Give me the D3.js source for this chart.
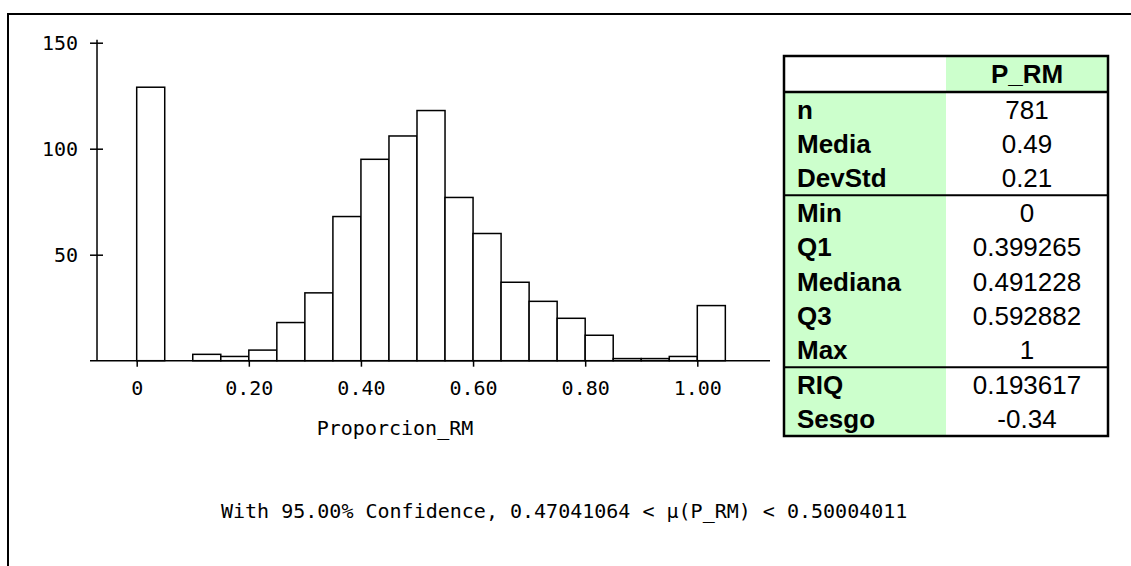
<!DOCTYPE html>
<html><head><meta charset="utf-8">
<script src="https://cdn.jsdelivr.net/npm/d3@7"></script>
<style>body{margin:0;background:#fff} svg{display:block}</style>
</head><body><svg id="c" width="1131" height="566"></svg>
<script>
// ---- data ----
const binStarts = [0,0.05,0.10,0.15,0.20,0.25,0.30,0.35,0.40,0.45,0.50,0.55,0.60,0.65,0.70,0.75,0.80,0.85,0.90,0.95,1.00];
const counts    = [129,0,3,2,5,18,32,68,95,106,118,77,60,37,28,20,12,1,1,2,26];
const binWidth = 0.05;
const yTickValues = [50,100,150];
const yTickLabels = ["50","100","150"];
const xTickValues = [0,0.2,0.4,0.6,0.8,1.0];
const xTickLabels = ["0","0.20","0.40","0.60","0.80","1.00"];
const xTitle = "Proporcion_RM";
const ciText = "With 95.00% Confidence, 0.47041064 < \u03BC(P_RM) < 0.50004011";
const tableHeader = "P_RM";
const statLabels = ["n","Media","DevStd","Min","Q1","Mediana","Q3","Max","RIQ","Sesgo"];
const statValues = ["781","0.49","0.21","0","0.399265","0.491228","0.592882","1","0.193617","-0.34"];
const ruleAfter = [3,8];

// ---- layout ----
const svg = d3.select("#c");
const mono = "'DejaVu Sans Mono', monospace";
const x = d3.scaleLinear().domain([0,1]).range([136.7,697.3]);
const y = d3.scaleLinear().domain([0,150]).range([360.7,42.7]);
const xAxisExt = [-0.0833, 1.1297];
const yAxisAt = -0.0708;

// frame
svg.append("path").attr("d","M8,566 L8,14 L1131,14").attr("fill","none").attr("stroke","#000").attr("stroke-width",2);

// bars
svg.append("g").selectAll("rect").data(counts.map((c,i)=>({x0:binStarts[i],c})))
  .join("rect")
  .attr("x",d=>x(d.x0)).attr("width",d=>x(d.x0+binWidth)-x(d.x0))
  .attr("y",d=>y(d.c)).attr("height",d=>y(0)-y(d.c))
  .attr("fill","#fff").attr("stroke","#000").attr("stroke-width",1.5)
  .attr("display",d=>d.c>0?null:"none");

// y axis
const yAx = svg.append("g").attr("transform",`translate(${x(yAxisAt)},0)`)
  .call(d3.axisLeft(y).tickValues(yTickValues).tickFormat((d,i)=>yTickLabels[i]).tickSize(7).tickPadding(12));
yAx.select(".domain").remove();
yAx.append("line").attr("x1",0).attr("x2",0).attr("y1",y(150)-3).attr("y2",y(0)).attr("stroke","#000").attr("stroke-width",1.5);
yAx.selectAll(".tick line").attr("x1",-7).attr("x2",6).attr("stroke","#000").attr("stroke-width",1.5);
yAx.selectAll(".tick text").attr("font-family",mono).attr("font-size",20).attr("fill","#000");

// x axis
const xAx = svg.append("g").attr("transform",`translate(0,${y(0)})`)
  .call(d3.axisBottom(x).tickValues(xTickValues).tickFormat((d,i)=>xTickLabels[i]).tickSize(6).tickPadding(14));
xAx.select(".domain").remove();
xAx.append("line").attr("x1",x(xAxisExt[0])).attr("x2",x(xAxisExt[1])).attr("y1",0).attr("y2",0).attr("stroke","#000").attr("stroke-width",1.5);
xAx.selectAll(".tick line").attr("stroke","#000").attr("stroke-width",1.5);
xAx.selectAll(".tick text").attr("font-family",mono).attr("font-size",20).attr("fill","#000");

// titles
svg.append("text").attr("x",395).attr("y",428).attr("dy","0.35em").attr("text-anchor","middle")
  .attr("font-family",mono).attr("font-size",20).text(xTitle);
svg.append("text").attr("x",221).attr("y",511).attr("dy","0.35em").attr("text-anchor","start")
  .attr("font-family",mono).attr("font-size",20).text(ciText);

// stats table
const tx0=784, tx1=946, tx2=1108, ty0=56, headH=36, rowH=34.4;
const tf = "'Liberation Sans', Arial, sans-serif";
const tg = svg.append("g");
const nRows = statLabels.length;
const tyEnd = ty0+headH+nRows*rowH;
tg.append("rect").attr("x",tx1).attr("y",ty0).attr("width",tx2-tx1).attr("height",headH).attr("fill","#ccffcc");
tg.append("rect").attr("x",tx0).attr("y",ty0+headH).attr("width",tx1-tx0).attr("height",nRows*rowH).attr("fill","#ccffcc");
tg.append("text").attr("x",(tx1+tx2)/2).attr("y",ty0+headH/2).attr("dy","0.36em").attr("text-anchor","middle")
  .attr("font-family",tf).attr("font-weight","bold").attr("font-size",26).text(tableHeader);
statLabels.forEach((l,i)=>{
  const cy = ty0+headH+(i+0.5)*rowH;
  tg.append("text").attr("x",tx0+13).attr("y",cy).attr("dy","0.36em").attr("font-family",tf).attr("font-weight","bold").attr("font-size",26).text(l);
  tg.append("text").attr("x",(tx1+tx2)/2).attr("y",cy).attr("dy","0.36em").attr("text-anchor","middle").attr("font-family",tf).attr("font-size",26).text(statValues[i]);
});
tg.append("rect").attr("x",tx0).attr("y",ty0).attr("width",tx2-tx0).attr("height",tyEnd-ty0).attr("fill","none").attr("stroke","#000").attr("stroke-width",2.5);
tg.append("line").attr("x1",tx0).attr("x2",tx2).attr("y1",ty0+headH).attr("y2",ty0+headH).attr("stroke","#000").attr("stroke-width",2.5);
ruleAfter.forEach(r=>{
  const yy = ty0+headH+r*rowH;
  tg.append("line").attr("x1",tx0).attr("x2",tx2).attr("y1",yy).attr("y2",yy).attr("stroke","#000").attr("stroke-width",2);
});
</script></body></html>
